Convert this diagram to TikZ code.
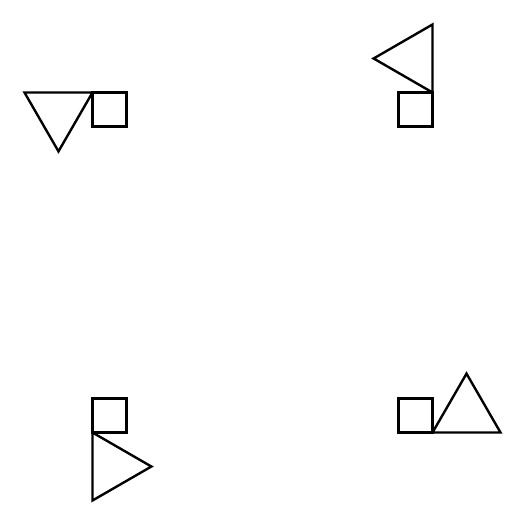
\documentclass[tikz,border=0pt]{standalone}
\usepackage{tikz}
\begin{document}
\begin{tikzpicture}[outline/.style = {draw, line width=2pt}]
        \useasboundingbox (-7.72,-7.72) rectangle (7.72,7.72);
        % top left
        \draw[outline] (-5,4) -- (-4,4) -- (-4,5) -- (-5,5) -- cycle;
        \draw[outline] (-7,5) -- (-5,5) -- (-6,{5-sqrt(3)}) -- cycle;
        % top right
        \draw[outline] (4,4) -- (5,4) -- (5,5) -- (4,5) -- cycle;
        \draw[outline] (5,5) -- (5,7) -- ({5-sqrt(3)},6) -- cycle;
        % bottom left
        \draw[outline] (-5,-5) -- (-4,-5) -- (-4,-4) -- (-5,-4) -- cycle;
        \draw[outline] (-5,-5) -- (-5,-7) -- ({-5+sqrt(3)},-6) -- cycle;
        % bottom right
        \draw[outline] (4,-5) -- (5,-5) -- (5,-4) -- (4,-4) -- cycle;
        \draw[outline] (5,-5) -- (7,-5) -- (6,{-5+sqrt(3)}) -- cycle;
      \end{tikzpicture}
\end{document}
